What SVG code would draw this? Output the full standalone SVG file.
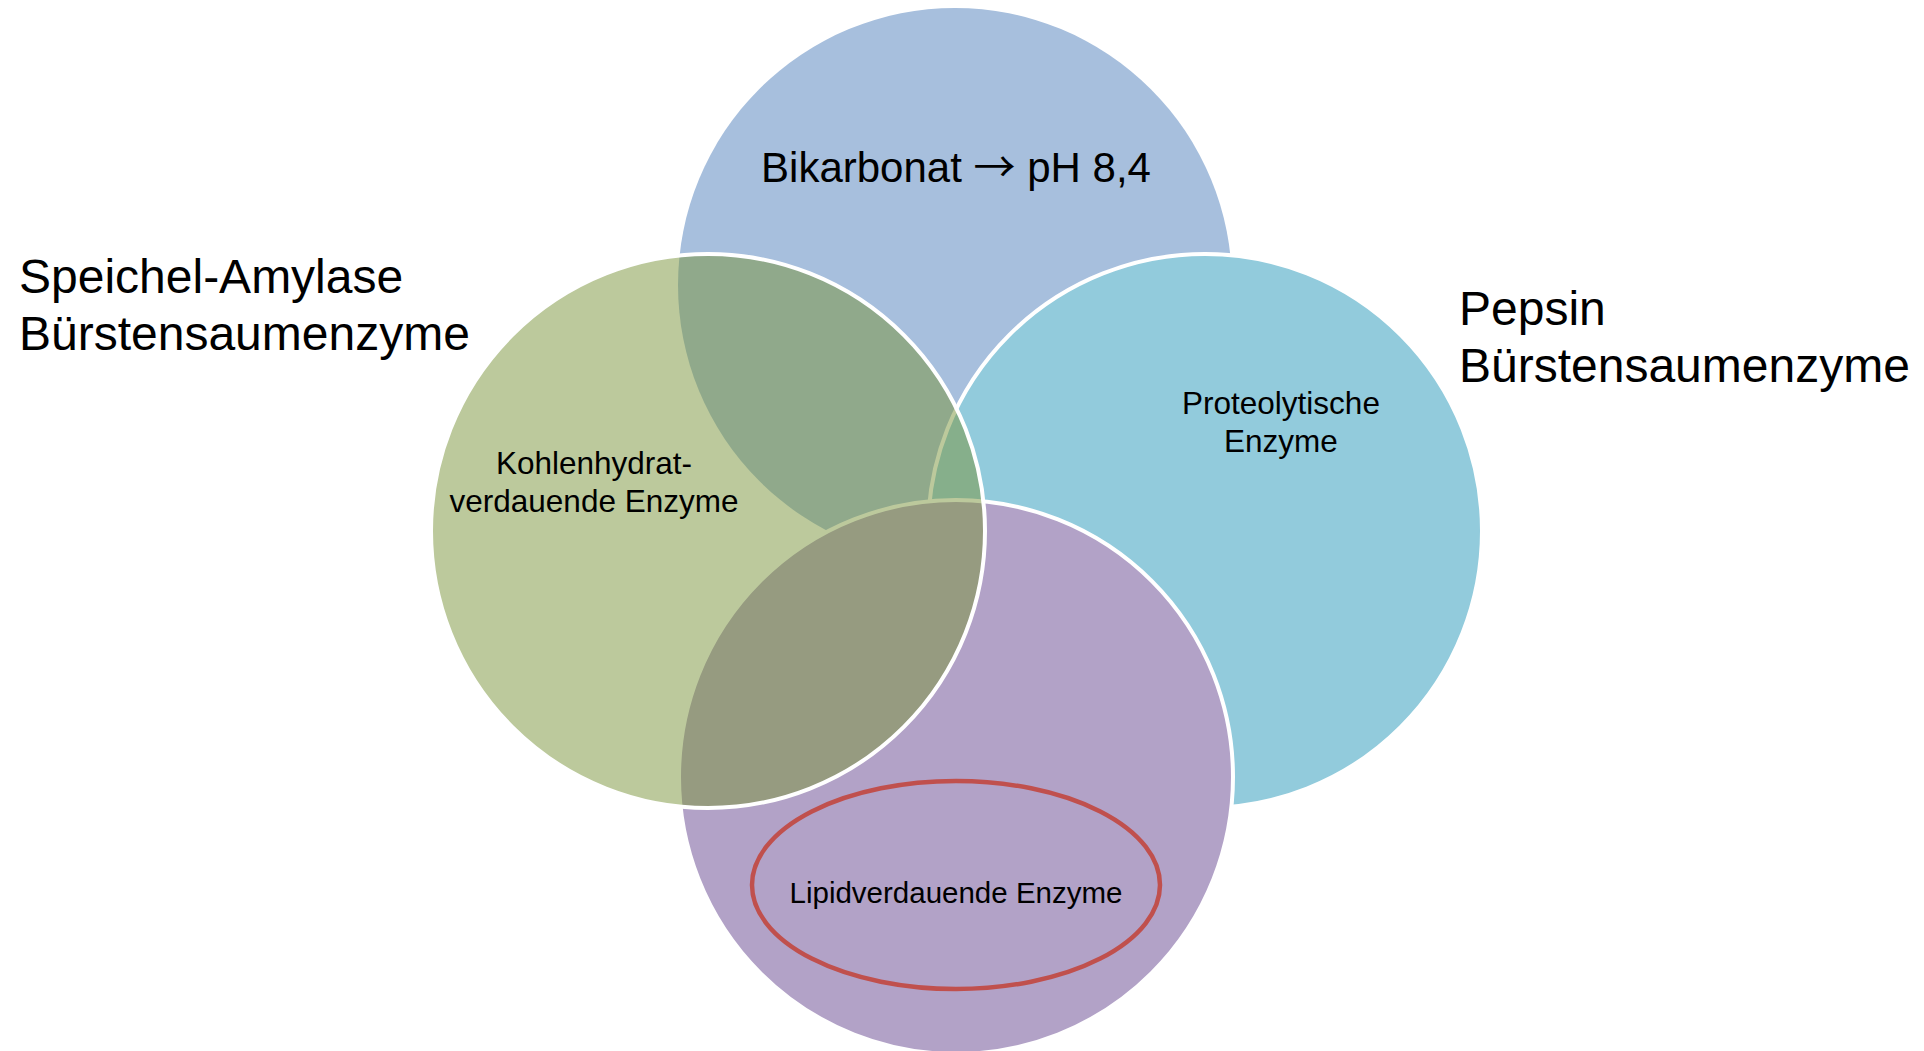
<svg xmlns="http://www.w3.org/2000/svg" width="1924" height="1051" viewBox="0 0 1924 1051">
<style>
.ring{stroke:#FFFFFF;stroke-width:4}
.big{font-family:"Liberation Sans",Arial,sans-serif;font-size:48px;fill:#000}
.mid{font-family:"Liberation Sans",Arial,sans-serif;font-size:42px;fill:#000;text-anchor:middle}
.arr{font-family:"Noto Sans CJK SC","DejaVu Sans",sans-serif;font-size:42px}
.small{font-family:"Liberation Sans",Arial,sans-serif;font-size:31.5px;fill:#000;text-anchor:middle}
</style>
<rect width="1924" height="1051" fill="#FFFFFF"/>
<g id="node-top">
<circle cx="955" cy="285" r="277" fill="#A7BFDD"/>
</g>
<g id="node-right">
<circle class="ring" cx="1205" cy="531" r="277" fill="#92CBDC"/>
</g>
<g id="node-bottom">
<circle class="ring" cx="956" cy="777" r="277" fill="#B2A2C7"/>
</g>
<g id="node-left">
<circle class="ring" cx="708" cy="531" r="277" fill="#79933A" fill-opacity="0.5"/>
</g>
<g id="node-highlight">
<ellipse cx="956" cy="885" rx="204" ry="104" fill="none" stroke="#C0504D" stroke-width="4.5"/>
</g>
<g id="labels">
<text class="mid" x="956" y="182">Bikarbonat <tspan class="arr">→</tspan> pH 8,4</text>
<text class="small" x="594" y="474">Kohlenhydrat-</text>
<text class="small" x="594" y="512">verdauende Enzyme</text>
<text class="small" x="1281" y="414">Proteolytische</text>
<text class="small" x="1281" y="452">Enzyme</text>
<text class="small" x="956" y="903" style="font-size:29.5px">Lipidverdauende Enzyme</text>
<text class="big" x="19" y="293">Speichel-Amylase</text>
<text class="big" x="19" y="350">Bürstensaumenzyme</text>
<text class="big" x="1459" y="325">Pepsin</text>
<text class="big" x="1459" y="382">Bürstensaumenzyme</text>
</g>
<g id="connectors"></g>
</svg>
